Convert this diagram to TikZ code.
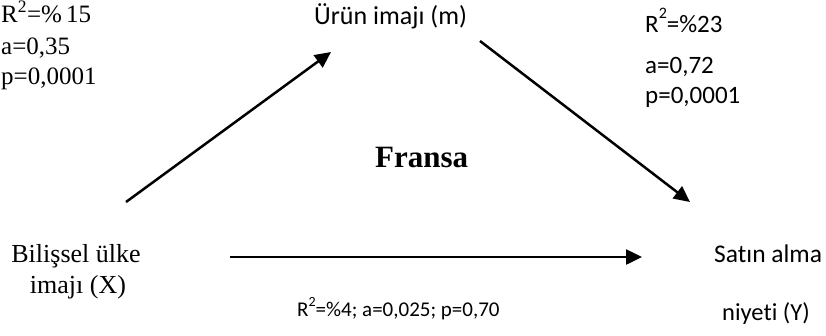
\documentclass[tikz,border=0pt]{standalone}
\usepackage{fontspec}
\setmainfont{Liberation Serif}
\newfontfamily\calfont[Ligatures=NoCommon]{Carlito}
\usetikzlibrary{arrows.meta}
\newcommand{\calsq}{\raisebox{14pt}{\fontsize{16}{16}\selectfont 2}}
\begin{document}
\begin{tikzpicture}[x=1pt,y=-1pt,
  tnr/.style={font=\fontsize{25}{28}\selectfont, inner sep=0pt, anchor=base west},
  tnrbig/.style={font=\fontsize{26}{30}\selectfont, inner sep=0pt, anchor=base},
  cbr/.style={font=\calfont\fontsize{25}{30}\selectfont, inner sep=0pt, anchor=base west},
  cbrsmall/.style={font=\calfont\fontsize{21}{26}\selectfont, inner sep=0pt, anchor=base west},
  arr/.style={line width=2.5pt, -{Triangle[length=16pt,width=15pt]}}]
\useasboundingbox (0,0) rectangle (826,335);
% top-left statistics
\node[tnr] (s1a) at (1,22) {R\textsuperscript{2}=\%\,15};
\node[tnr] (s1b) at (1,54) {a=0,35};
\node[tnr] (s1c) at (1,84) {p=0,0001};
% mediator
\node[cbr, font=\calfont\fontsize{26}{30}\selectfont] (m) at (314,24) {Ürün imajı (m)};
% top-right statistics
\node[cbr] (s2a) at (645,32) {R\calsq=\%23};
\node[cbr] (s2b) at (645,73) {a=0,72};
\node[cbr] (s2c) at (645,103) {p=0,0001};
% title
\node[font=\bfseries\fontsize{31}{36}\selectfont, inner sep=0pt, anchor=base west] (f) at (375,167) {Fransa};
% X
\node[tnrbig] (x1) at (76,262) {Bilişsel ülke};
\node[tnrbig] (x2) at (78,293) {imajı (X)};
% Y
\node[cbr, font=\calfont\fontsize{25.5}{30}\selectfont] (y1) at (714,262) {Satın alma};
\node[cbr, font=\calfont\fontsize{24.5}{30}\selectfont] (y2) at (722,320) {niyeti (Y)};
% direct effect
\node[cbrsmall] (s3) at (297,316) {R\raisebox{10pt}{\fontsize{14}{14}\selectfont 2}=\%4; a=0,025; p=0,70};
% arrows
\coordinate (a1s) at (126,202); \coordinate (a1e) at (331,52);
\coordinate (a2s) at (480,41); \coordinate (a2e) at (690,202);
\coordinate (a3s) at (230,257); \coordinate (a3e) at (642,257);
\draw[arr] (a1s) -- (a1e);
\draw[arr] (a2s) -- (a2e);
\draw[arr] (a3s) -- (a3e);
\end{tikzpicture}
\end{document}
